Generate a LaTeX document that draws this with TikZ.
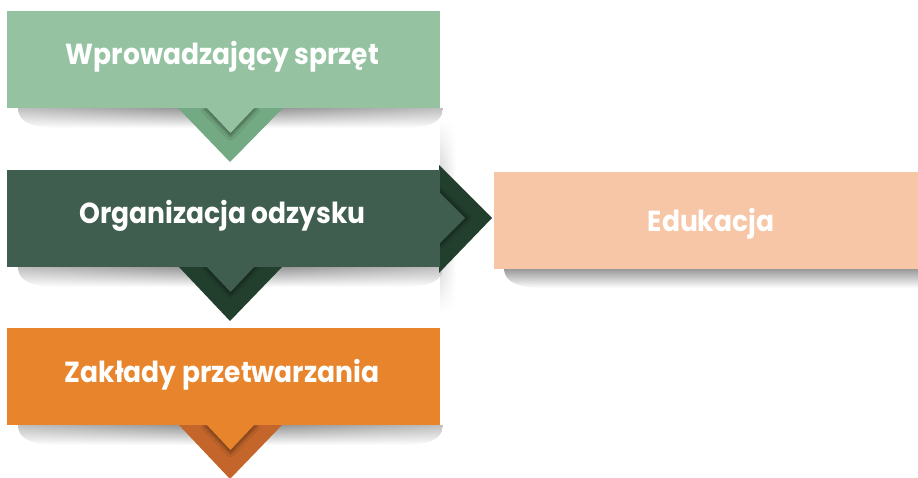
\documentclass[tikz,border=0pt]{standalone}
\usepackage{fontspec}
\setmainfont{Poppins}
\usetikzlibrary{shadows.blur, fadings}
\definecolor{gA}{HTML}{95C3A1}
\definecolor{gAd}{HTML}{74AA83}
\definecolor{gB}{HTML}{3F5E4F}
\definecolor{gBd}{HTML}{223F2E}
\definecolor{oC}{HTML}{E8852C}
\definecolor{oCd}{HTML}{C4662B}
\definecolor{pD}{HTML}{F7C6A6}
\tikzfading[name=vfade, top color=transparent!100, bottom color=transparent!100, middle color=transparent!0]
\tikzfading[name=hfade, left color=transparent!45, right color=transparent!45, middle color=transparent!0]
\tikzset{
  box/.style={draw=none, rectangle, minimum width=433pt, minimum height=97pt, inner sep=0pt},
  lbl/.style={text=white, font=\bfseries\fontsize{29}{29}\selectfont, anchor=base, inner sep=0pt, xscale=0.915, transform shape},
  inshadow/.style={blur shadow={shadow xshift=0pt, shadow yshift=-3pt, shadow blur steps=6, shadow opacity=45, shadow blur radius=4pt}},
  grshadow/.style={top color=black!45, bottom color=white, path fading=hfade},
}
\begin{document}
\begin{tikzpicture}[x=1pt, y=-1pt]
\useasboundingbox (0,0) rectangle (918,477);
% ground shadows under boxes
\foreach \t in {108, 267, 425} {
  \shade[grshadow]
    (18,\t) -- (443,\t) to[out=-90, in=0] (400,\t+20) -- (60,\t+20) to[out=180, in=-90] (18,\t) -- cycle;
}
\shade[top color=black!42, bottom color=white]
  (504,268) -- (918,268) -- (918,288) -- (546,288) to[out=180, in=-90] (504,268) -- cycle;
% vertical shadow beside the right arrow
\shade[left color=black!28, right color=white, path fading=vfade] (440,120) rectangle (456,312);
% arrows (outer parts)
\fill[gAd] (178,108) -- (283,108) -- (230,162) -- cycle;
\fill[gBd] (178,266) -- (283,266) -- (230,321) -- cycle;
\fill[gBd] (439,165) -- (492,218) -- (439,273) -- cycle;
\fill[oCd] (178,424) -- (283,424) -- (230,479) -- cycle;
% inner parts with shadows
\fill[gA, inshadow] (205,106) -- (256,106) -- (230.5,133) -- cycle;
\fill[gB, inshadow] (205,265) -- (256,265) -- (230.5,292) -- cycle;
\fill[gB, blur shadow={shadow xshift=3pt, shadow yshift=0pt, shadow blur steps=6, shadow opacity=45, shadow blur radius=4pt}] (437,190) -- (465,218) -- (437,246) -- cycle;
\fill[oC, inshadow] (205,423) -- (256,423) -- (230.5,450) -- cycle;
% boxes
\node[box, fill=gA] (b1) at (223.5,59.5) {};
\node[box, fill=gB] (b2) at (223.5,218.5) {};
\node[box, fill=oC] (b3) at (223.5,376.5) {};
\node[box, fill=pD, minimum width=424pt, minimum height=97pt] (b4) at (706,220.5) {};
% labels
\node[lbl] (t1) at (222.5,64) {Wprowadzający sprzęt};
\node[lbl] (t2) at (222.5,223) {Organizacja odzysku};
\node[lbl] (t3) at (222,382) {Zakłady przetwarzania};
\node[lbl] (t4) at (711,231) {Edukacja};
\end{tikzpicture}
\end{document}
